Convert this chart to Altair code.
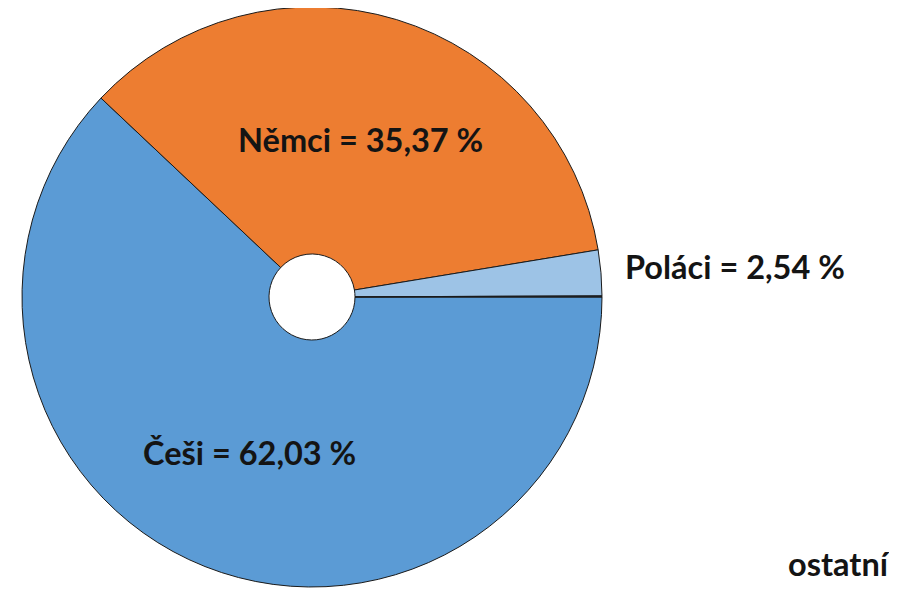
import math
import altair as alt
import pandas as pd

# data
groups = ["Češi", "Němci", "Poláci", "ostatní"]
shares = [62.03, 35.37, 2.54, 0.06]
colors = ["#5B9BD5", "#ED7D31", "#9DC3E6", "#1F2A36"]
label_texts = ["Češi = 62,03 %", "Němci = 35,37 %", "Poláci = 2,54 %", "ostatní"]

# annotation layout (pixels inside the chart)
label_x = [135, 230, 617, 780]
label_y = [457, 144, 271, 568]

df = pd.DataFrame({"group": groups, "share": shares, "order": list(range(len(groups)))})
lab = pd.DataFrame({"text": label_texts, "lx": label_x, "ly": label_y})

start = math.pi / 2
arcs = alt.Chart(df).mark_arc(
    outerRadius=290, innerRadius=43, stroke="#1a1a1a", strokeWidth=1
).encode(
    theta=alt.Theta("share:Q", stack=True, scale=alt.Scale(range=[start, start + 2 * math.pi])),
    order=alt.Order("order:Q"),
    color=alt.Color("group:N", scale=alt.Scale(domain=groups, range=colors), legend=None),
    x=alt.value(304),
    y=alt.value(289),
)

labels = alt.Chart(lab).mark_text(
    font="Lato", fontWeight="bold", fontSize=32.5, align="left", baseline="alphabetic", color="#141414"
).encode(
    x=alt.X("lx:Q", scale=None, axis=None),
    y=alt.Y("ly:Q", scale=None, axis=None),
    text="text:N",
)

chart = alt.layer(arcs, labels).properties(
    width=881, height=581, padding=0, autosize=alt.AutoSizeParams(type="none")
).configure_view(stroke=None)

chart.save("out.html", embed_options={"renderer": "svg", "actions": False})
